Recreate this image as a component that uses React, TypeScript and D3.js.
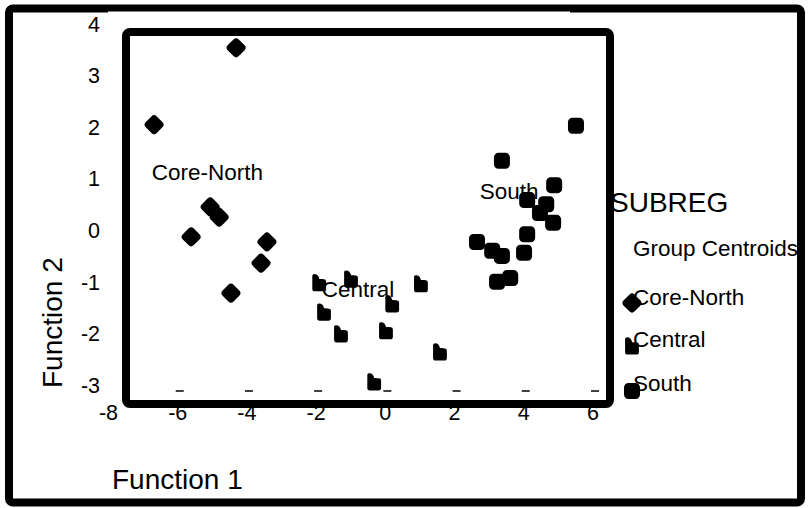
import React from "react";
import * as d3 from "d3";

// ---- data ----
const coreNorthX = [-6.74, -4.37, -5.12, -4.86, -5.67, -3.48, -3.65, -4.52];
const coreNorthY = [2.04, 3.53, 0.45, 0.25, -0.13, -0.23, -0.64, -1.22];

const centralX = [-1.97, -1.05, 0.97, 0.14, -1.83, -1.34, -0.04, 1.52, -0.38];
const centralY = [-1.02, -0.95, -1.04, -1.43, -1.59, -2.01, -1.95, -2.36, -2.94];

const southX = [5.45, 3.31, 4.82, 4.04, 4.59, 4.41, 4.79, 4.04, 2.59, 3.03, 3.31, 3.95, 3.55, 3.17];
const southY = [2.02, 1.34, 0.87, 0.58, 0.5, 0.33, 0.14, -0.08, -0.23, -0.4, -0.5, -0.44, -0.93, -1.0];

const groupNames = ["Core-North", "Central", "South"];
const groupLabelX = [-5.2, -0.85, 3.52];
const groupLabelY = [1.12, -1.14, 0.76];

const xTicks = [-8, -6, -4, -2, 0, 2, 4, 6];
const yTicks = [4, 3, 2, 1, 0, -1, -2, -3];

const legendTitle = "SUBREG";
const legendSubtitle = "Group Centroids";
const xTitle = "Function 1";
const yTitle = "Function 2";

const FONT = "'Liberation Sans', Arial, sans-serif";

function Diamond({ x, y }: { x: number; y: number }) {
  return (
    <rect
      x={-7}
      y={-7}
      width={14}
      height={14}
      rx={3}
      transform={`translate(${x},${y}) rotate(45)`}
      fill="#000"
      stroke="#000"
      strokeWidth={1.5}
    />
  );
}

function Thumb({ x, y }: { x: number; y: number }) {
  return (
    <path
      transform={`translate(${x},${y}) scale(1.12)`}
      d="M-5,-7 Q-1.5,-7.5 -0.5,-3 L4.5,-2.5 Q5.5,-2.5 5.5,-1 L5.5,5.5 Q5.5,7 4,7 L-4,7 Q-5.5,7 -5.5,5.5 L-5.5,-6 Q-5.5,-7 -5,-7 Z"
      fill="#000"
      stroke="#000"
      strokeWidth={1.3}
      strokeLinejoin="round"
    />
  );
}

function Square({ x, y }: { x: number; y: number }) {
  return (
    <rect
      x={x - 7}
      y={y - 7}
      width={14}
      height={14}
      rx={3.5}
      fill="#000"
      stroke="#000"
      strokeWidth={2}
      strokeLinejoin="round"
    />
  );
}

export default function App() {
  const W = 808;
  const H = 508;
  const x = d3.scaleLinear().domain([-8, 6]).range([110.5, 595]);
  const y = d3.scaleLinear().domain([-3, 4]).range([385, 23.5]);

  const markers = [Diamond, Thumb, Square];
  const legendY = [297, 339, 383];
  const legendMarkY = [303, 346, 391];

  return (
    <svg
      width={W}
      height={H}
      style={{ position: "absolute", left: 0, top: 0, display: "block", background: "#fff" }}
      fontFamily={FONT}
    >
      <rect x={0} y={0} width={W} height={H} fill="#fff" />

      {/* y tick labels */}
      {yTicks.map((t) => (
        <text key={"y" + t} x={100} y={y(t) + 8} fontSize={21.5} textAnchor="end" fill="#000">
          {t}
        </text>
      ))}
      {/* x tick labels */}
      {xTicks.map((t) => (
        <text key={"x" + t} x={x(t) - 2} y={420} fontSize={21.5} textAnchor="middle" fill="#000">
          {t}
        </text>
      ))}
      {/* x tick marks at bottom */}
      {xTicks.slice(1).map((t) => (
        <line key={"tm" + t} x1={x(t) - 4} x2={x(t) + 4} y1={391} y2={391} stroke="#000" strokeWidth={1.5} />
      ))}

      {/* axis titles */}
      <text x={112} y={489} fontSize={28} fill="#000">{xTitle}</text>
      <text transform="translate(62,388) rotate(-90)" fontSize={28} fill="#000">{yTitle}</text>

      {/* legend texts */}
      <text x={610} y={212} fontSize={28} fill="#000">{legendTitle}</text>
      <text x={633} y={256} fontSize={22.5} fill="#000">{legendSubtitle}</text>
      {groupNames.map((g, i) => (
        <text key={"lg" + g} x={633} y={legendY[i] + 8} fontSize={22.5} fill="#000">{g}</text>
      ))}

      {/* outer frame */}
      <rect x={9} y={8.5} width={792} height={494} rx={4} fill="none" stroke="#000" strokeWidth={8} />
      <rect x={108} y={11.5} width={462} height={1.5} fill="#fff" />

      {/* inner plot frame */}
      <rect x={126} y={32} width={484} height={372} rx={4} fill="none" stroke="#000" strokeWidth={8} />

      {/* centroid labels */}
      {groupNames.map((g, i) => (
        <text
          key={"gl" + g}
          x={x(groupLabelX[i])}
          y={y(groupLabelY[i]) + 8}
          fontSize={22.5}
          textAnchor="middle"
          fill="#000"
        >
          {g}
        </text>
      ))}

      {/* points */}
      {coreNorthX.map((v, i) => (
        <Diamond key={"cn" + i} x={x(v)} y={y(coreNorthY[i])} />
      ))}
      {centralX.map((v, i) => (
        <Thumb key={"ce" + i} x={x(v)} y={y(centralY[i])} />
      ))}
      {southX.map((v, i) => (
        <Square key={"so" + i} x={x(v)} y={y(southY[i])} />
      ))}

      {/* legend markers */}
      {markers.map((M, i) => (
        <M key={"lm" + i} x={632} y={legendMarkY[i]} />
      ))}
    </svg>
  );
}
